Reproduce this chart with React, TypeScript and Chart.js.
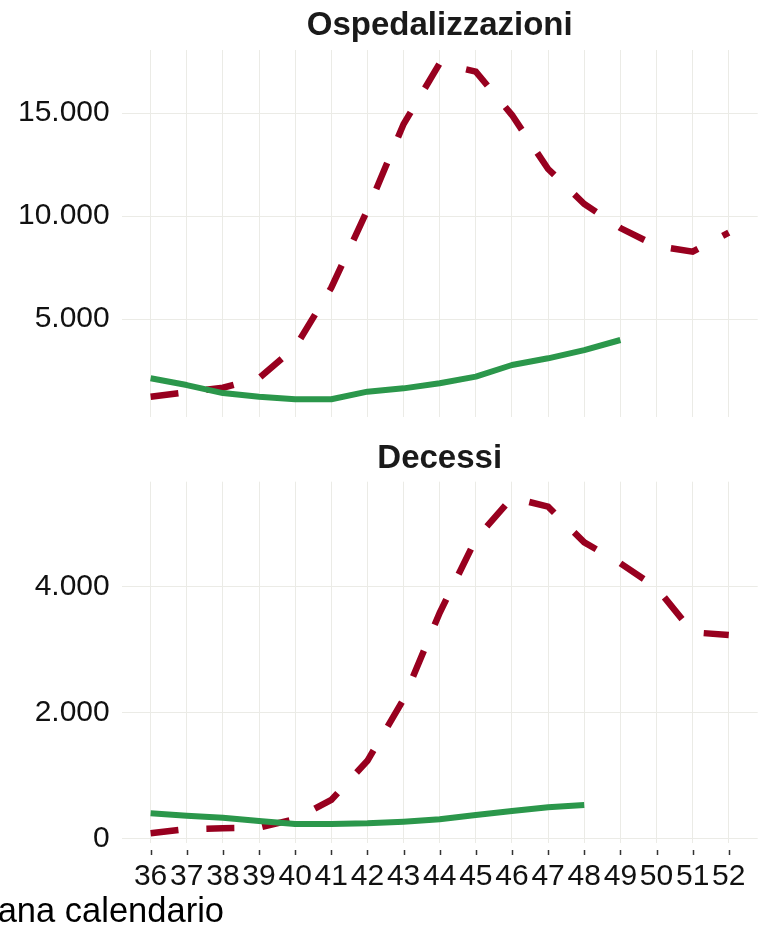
import React, { useEffect, useRef } from "react";
import { Chart, registerables } from "chart.js";

Chart.register(...registerables);

// ---- data ----
const weeks = [36, 37, 38, 39, 40, 41, 42, 43, 44, 45, 46, 47, 48, 49, 50, 51, 52];
const hospRed = [1225, 1440, 1660, 2130, 3620, 6520, 10300, 14470, 17420, 17020, 14910, 12290, 10590, 9420, 8550, 8270, 9200];
const hospGreen = [2120, 1790, 1400, 1225, 1100, 1100, 1470, 1630, 1875, 2200, 2765, 3090, 3490, 3980];
const deathRed = [79, 145, 159, 169, 305, 608, 1230, 2206, 3580, 4750, 5407, 5263, 4697, 4365, 3978, 3270, 3226];
const deathGreen = [397, 359, 327, 275, 227, 227, 238, 264, 301, 370, 433, 492, 528];
const hospTicks = [5000, 10000, 15000];
const deathTicks = [0, 2000, 4000];
const panelTitles = ["Ospedalizzazioni", "Decessi"];
const xTitle = "Settimana calendario";

const FAMILY = "'Liberation Sans', Arial, sans-serif";
const RED = "#98001f";
const GREEN = "#2b974b";
const GRID = "#ebebe6";

const fmt = (v: number) => String(v).replace(/\B(?=(\d{3})+(?!\d))/g, ".");

const decorPlugin = {
  id: "decor",
  afterDraw(chart: any, _args: any, opts: any) {
    const ctx = chart.ctx;
    const a = chart.chartArea;
    ctx.save();
    ctx.fillStyle = "#1a1a1a";
    ctx.font = `bold 33px ${FAMILY}`;
    ctx.textAlign = "center";
    ctx.textBaseline = "alphabetic";
    ctx.fillText(opts.title, (a.left + a.right) / 2, opts.titleBaseline);
    if (opts.axisMarks) {
      const xs = chart.scales.x;
      ctx.strokeStyle = "#333333";
      ctx.lineWidth = 1.5;
      xs.ticks.forEach((t: any) => {
        const px = Math.round(xs.getPixelForValue(t.value)) + 0.5;
        ctx.beginPath();
        ctx.moveTo(px, a.bottom + 7);
        ctx.lineTo(px, a.bottom + 12);
        ctx.stroke();
      });
      ctx.fillStyle = "#000000";
      ctx.font = `34.5px ${FAMILY}`;
      ctx.textAlign = "right";
      ctx.fillText(opts.xTitle, 224, opts.xTitleBaseline);
    }
    ctx.restore();
  },
};

function makeConfig(p: any): any {
  const toPts = (vals: number[]) => vals.map((y, i) => ({ x: weeks[i], y }));
  return {
    type: "line",
    data: {
      datasets: [
        {
          data: toPts(p.green),
          borderColor: GREEN,
          borderWidth: 6,
          pointRadius: 0,
          tension: 0,
          borderCapStyle: "butt",
          borderJoinStyle: "round",
          fill: false,
        },
        {
          data: toPts(p.red),
          borderColor: RED,
          borderWidth: 6.5,
          borderDash: [28, 28],
          pointRadius: 0,
          tension: 0,
          borderCapStyle: "butt",
          borderJoinStyle: "miter",
          fill: false,
        },
      ],
    },
    options: {
      responsive: false,
      animation: false,
      events: [],
      layout: { padding: { top: p.padTop, right: 11.3, bottom: p.padBottom, left: 0 } },
      plugins: {
        legend: { display: false },
        tooltip: { enabled: false },
        decor: {
          title: p.title,
          titleBaseline: p.titleBaseline,
          axisMarks: p.showX,
          xTitle: xTitle,
          xTitleBaseline: 482,
        },
      },
      scales: {
        x: {
          type: "linear",
          min: 35.2,
          max: 52.8,
          afterBuildTicks: (s: any) => {
            s.ticks = weeks.map((v) => ({ value: v }));
          },
          afterFit: (s: any) => {
            s.height = p.xHeight;
            s.paddingLeft = 0;
            s.paddingRight = 0;
            s.paddingTop = 0;
            s.paddingBottom = 0;
          },
          grid: { color: GRID, lineWidth: 1, drawTicks: false },
          border: { display: false },
          ticks: {
            display: p.showX,
            autoSkip: false,
            maxRotation: 0,
            minRotation: 0,
            padding: 16,
            color: "#111111",
            font: { family: FAMILY, size: 30 },
            callback: (v: any) => String(v),
          },
        },
        y: {
          type: "linear",
          min: p.yMin,
          max: p.yMax,
          afterBuildTicks: (s: any) => {
            s.ticks = p.yTicks.map((v: number) => ({ value: v }));
          },
          afterFit: (s: any) => {
            s.width = 121.7;
            s.paddingTop = 0;
            s.paddingBottom = 0;
            s.paddingLeft = 0;
            s.paddingRight = 0;
          },
          grid: { color: GRID, lineWidth: 1, drawTicks: false },
          border: { display: false },
          ticks: {
            padding: 12,
            color: "#111111",
            font: { family: FAMILY, size: 30 },
            callback: (v: any) => fmt(v),
          },
        },
      },
    },
    plugins: [decorPlugin],
  };
}

function Panel(props: { cfg: any; top: number; height: number }) {
  const ref = useRef<HTMLCanvasElement | null>(null);
  useEffect(() => {
    if (!ref.current) return;
    const chart = new Chart(ref.current, makeConfig(props.cfg));
    return () => chart.destroy();
  }, []);
  return (
    <canvas
      ref={ref}
      width={769}
      height={props.height}
      style={{ position: "absolute", left: 0, top: props.top, width: 769, height: props.height, display: "block" }}
    />
  );
}

export default function App() {
  const topCfg = {
    title: panelTitles[0],
    titleBaseline: 35,
    red: hospRed,
    green: hospGreen,
    yMin: 253,
    yMax: 18071,
    yTicks: hospTicks,
    showX: false,
    padTop: 50,
    padBottom: 13.3,
    xHeight: 0,
  };
  const bottomCfg = {
    title: panelTitles[1],
    titleBaseline: 28,
    red: deathRed,
    green: deathGreen,
    yMin: -75,
    yMax: 5660,
    yTicks: deathTicks,
    showX: true,
    padTop: 41.7,
    padBottom: 0,
    xHeight: 87,
  };
  return (
    <div style={{ position: "absolute", left: 0, top: 0, width: 769, height: 930, background: "#ffffff", overflow: "hidden" }}>
      <Panel cfg={topCfg} top={0} height={430} />
      <Panel cfg={bottomCfg} top={440} height={490} />
    </div>
  );
}
